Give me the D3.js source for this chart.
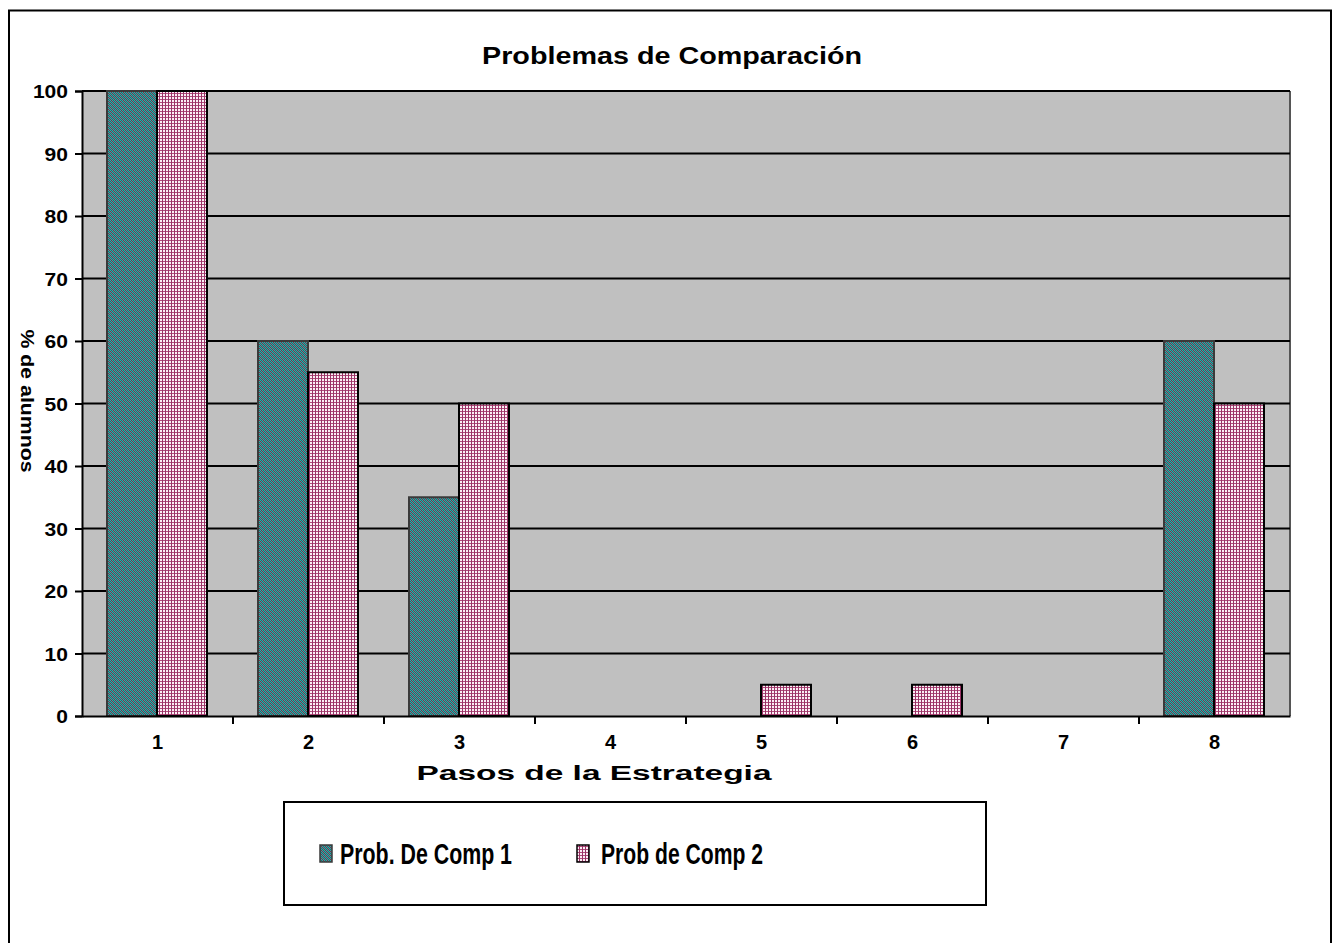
<!DOCTYPE html>
<html><head><meta charset="utf-8">
<script src="https://cdn.jsdelivr.net/npm/d3@7"></script>
<style>body{margin:0;background:#fff}svg{display:block}text{font-family:Arial,"Liberation Sans",sans-serif;font-weight:bold}</style>
</head><body><svg id="c" width="1338" height="943"></svg>
<script>
const categories = ["1","2","3","4","5","6","7","8"];
const series1 = [100, 60, 35, 0, 0, 0, 0, 60];
const series2 = [100, 55, 50, 0, 5, 5, 0, 50];
const seriesNames = ["Prob. De Comp 1", "Prob de Comp 2"];
const yTicks = [0,10,20,30,40,50,60,70,80,90,100];

const svg = d3.select("#c");
const defs = svg.append("defs");
const p1 = defs.append("pattern").attr("id","pat1").attr("patternUnits","userSpaceOnUse").attr("width",4).attr("height",4);
p1.append("rect").attr("width",4).attr("height",4).attr("fill","#31A8A8");
[0,1,2,3].forEach(a=>p1.append("rect").attr("x",a).attr("y",(a+1)%4).attr("width",1).attr("height",1).attr("fill","#7E2E48"));
[0,1,2,3].forEach(a=>p1.append("rect").attr("x",a).attr("y",(a+3)%4).attr("width",1).attr("height",1).attr("fill","#246A6C"));
const p2 = defs.append("pattern").attr("id","pat2").attr("patternUnits","userSpaceOnUse").attr("width",3).attr("height",3);
p2.append("rect").attr("width",3).attr("height",3).attr("fill","#FBEFF5");
p2.append("rect").attr("width",3).attr("height",1).attr("fill","#B04C7C");
p2.append("rect").attr("width",1).attr("height",3).attr("fill","#993366");

svg.append("rect").attr("x",9).attr("y",10.5).attr("width",1322).attr("height",940).attr("fill","#fff").attr("stroke","#000").attr("stroke-width",2);

const L=82, R=1290, T=91, B=716;
const x = d3.scaleBand().domain(categories).range([L,R]);
const y = d3.scaleLinear().domain([0,100]).range([B,T]);

svg.append("rect").attr("x",L).attr("y",T).attr("width",R-L).attr("height",B-T).attr("fill","#C0C0C0");
svg.append("line").attr("x1",R).attr("x2",R).attr("y1",T).attr("y2",B).attr("stroke","#555").attr("stroke-width",2);

svg.append("g").selectAll("line").data(yTicks.filter(d=>d>0)).join("line")
  .attr("x1",L).attr("x2",R).attr("y1",d=>y(d)).attr("y2",d=>y(d)).attr("stroke","#000").attr("stroke-width",2);

const bw = 50, off = 25;
const g = svg.append("g");
g.selectAll(".b1").data(categories.map((c,i)=>({c,v:series1[i]})).filter(d=>d.v>0)).join("rect")
  .attr("x",d=>x(d.c)+off).attr("y",d=>y(d.v)).attr("width",bw).attr("height",d=>B-y(d.v))
  .attr("fill","url(#pat1)").attr("stroke","#3a3a3a").attr("stroke-width",2);
g.selectAll(".b2").data(categories.map((c,i)=>({c,v:series2[i]})).filter(d=>d.v>0)).join("rect")
  .attr("x",d=>x(d.c)+off+bw).attr("y",d=>y(d.v)).attr("width",bw).attr("height",d=>B-y(d.v))
  .attr("fill","url(#pat2)").attr("stroke","#000").attr("stroke-width",2);

const ya = svg.append("g").attr("transform",`translate(${L},0)`)
  .call(d3.axisLeft(y).tickValues(yTicks).tickSize(7).tickPadding(7));
ya.select(".domain").attr("stroke","#000").attr("stroke-width",2);
ya.selectAll(".tick line").attr("stroke","#000").attr("stroke-width",2);
ya.selectAll("text").attr("font-size",19).attr("font-weight","bold").attr("fill","#000").attr("font-family","Arial,'Liberation Sans',sans-serif")
  .attr("dy","0.35em").attr("textLength",function(){return this.textContent.length*11.7;}).attr("lengthAdjust","spacingAndGlyphs");

const xa = svg.append("g").attr("transform",`translate(0,${B})`)
  .call(d3.axisBottom(x).tickSize(0).tickPadding(23));
xa.select(".domain").attr("stroke","#000").attr("stroke-width",2);
xa.selectAll("text").attr("font-size",20).attr("font-weight","bold").attr("fill","#000").attr("font-family","Arial,'Liberation Sans',sans-serif").attr("dy","0.5em");
svg.append("g").selectAll("line").data(categories.slice(1)).join("line")
  .attr("x1",d=>x(d)).attr("x2",d=>x(d)).attr("y1",B).attr("y2",B+8).attr("stroke","#000").attr("stroke-width",2);

svg.append("text").attr("x",672).attr("y",64).attr("text-anchor","middle").attr("font-size",24)
  .attr("textLength",380).attr("lengthAdjust","spacingAndGlyphs").text("Problemas de Comparación");
svg.append("text").attr("x",594).attr("y",780).attr("text-anchor","middle").attr("font-size",20)
  .attr("textLength",355).attr("lengthAdjust","spacingAndGlyphs").text("Pasos de la Estrategia");
svg.append("text").attr("transform",`translate(21,401) rotate(90)`).attr("text-anchor","middle").attr("font-size",19)
  .attr("textLength",143).attr("lengthAdjust","spacingAndGlyphs").text("% de alumnos");

svg.append("rect").attr("x",284).attr("y",802).attr("width",702).attr("height",103).attr("fill","#fff").attr("stroke","#000").attr("stroke-width",2);
const leg = [{n:seriesNames[0],f:"url(#pat1)",s:"#3a3a3a",x:320,tx:340,w:172},{n:seriesNames[1],f:"url(#pat2)",s:"#000",x:577,tx:601,w:162}];
leg.forEach(d=>{
  svg.append("rect").attr("x",d.x).attr("y",845).attr("width",12).attr("height",17).attr("fill",d.f).attr("stroke",d.s).attr("stroke-width",1.5);
  svg.append("text").attr("x",d.tx).attr("y",864).attr("font-size",29).attr("textLength",d.w).attr("lengthAdjust","spacingAndGlyphs").text(d.n);
});
</script></body></html>
